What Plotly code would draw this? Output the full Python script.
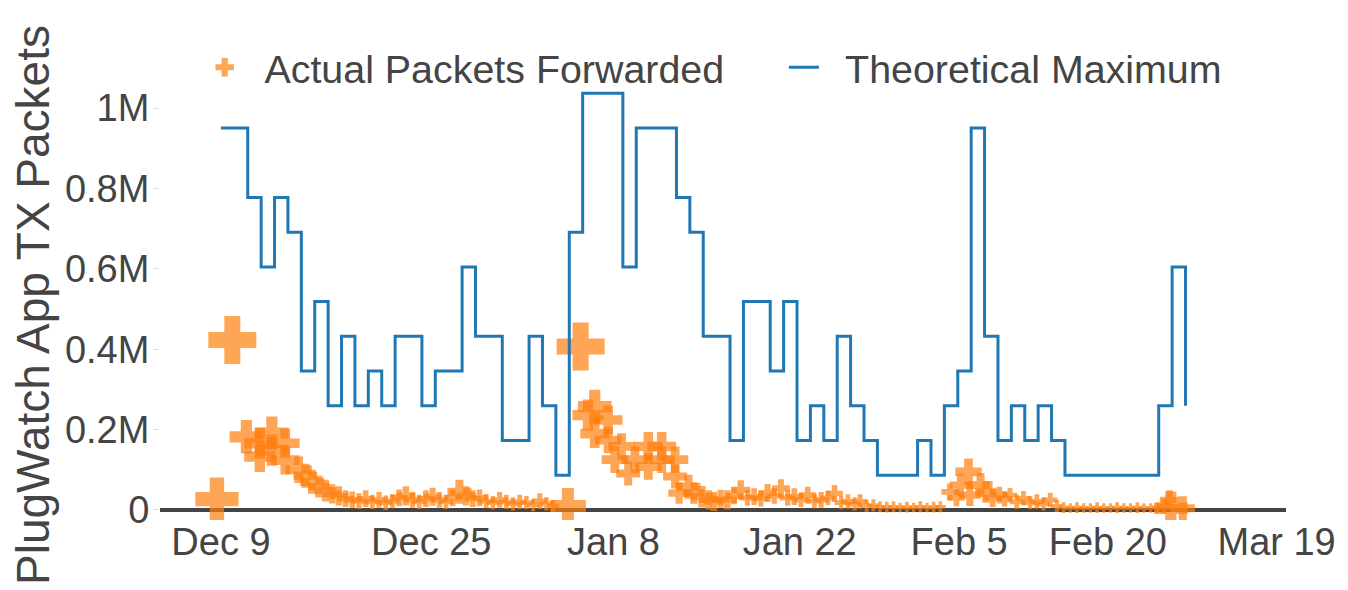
import plotly.graph_objects as go

# ---------------- data ----------------
# Theoretical maximum: daily capacity expressed in units of 86,400 packets (one per second per device)
theo_idx = list(range(73))
theo_units = [11, 11, 9, 7, 9, 8, 4, 6, 3, 5, 3, 4, 3, 5, 5, 3, 4, 4, 7, 5,
              5, 2, 2, 5, 3, 1, 8, 12, 12, 12, 7, 11, 11, 11, 9, 8, 5, 5, 2, 6,
              6, 4, 6, 2, 3, 2, 5, 3, 2, 1, 1, 1, 2, 1, 3, 4, 11, 5, 2, 3,
              2, 3, 2, 1, 1, 1, 1, 1, 1, 1, 3, 7, 3]
theo_vals = [u * 86400 for u in theo_units]

# Actual packets forwarded (position on the day axis, packets, marker size)
act_x = [-0.3, 0.85,
         1.9, 2.9, 2.9, 3.8, 3.8, 4.8, 4.8, 5.8, 6.3, 6.8, 7.3, 7.8, 8.3, 8.8, 9.3, 9.8,
         10.3, 10.8, 11.3, 11.8, 12.3, 12.8, 13.3, 13.8, 14.3, 14.8, 15.3, 15.8, 16.3, 16.8,
         17.3, 17.8, 18.3, 18.8, 19.3, 19.8, 20.3, 20.8, 21.3, 21.8, 22.3, 22.8, 23.3, 23.8,
         24.3, 24.8, 25.9, 26.85,
         27.4, 27.9, 28.9, 27.9, 28.9, 29.9, 29.4, 30.9, 31.9, 32.9, 31.9, 32.9, 33.9, 30.4,
         33.9, 34.9, 34.2, 35.3, 35.9, 36.4, 36.8, 37.3, 37.8, 38.3, 38.8, 39.3, 39.8, 40.3,
         40.8, 41.3, 41.8, 42.3, 42.8, 43.3, 43.8, 44.3, 44.8, 45.3, 45.8, 46.3, 46.8, 47.3,
         47.7, 48.2, 48.7, 49.2, 49.7, 50.2, 50.7, 51.2, 51.7, 52.2, 52.7, 53.2, 53.7,
         54.4, 54.9, 55.2, 55.8, 55.9, 56.7, 57.1, 57.6, 58.1, 58.5, 58.9, 59.4, 59.9, 60.4,
         60.9, 61.4, 61.9, 62.4, 62.9, 63.4, 63.9, 64.4, 64.9, 65.4, 65.9, 66.4, 66.9, 67.4,
         67.9, 68.4, 68.9, 69.4, 69.9, 70.4, 70.8, 70.9, 71.8]
act_y = [27000, 423000,
         182000, 166000, 133000, 191000, 149000, 166000, 124000, 100000, 85000, 70000, 58000,
         48000, 40000, 35000, 28000, 25000,
         22000, 28000, 20000, 25000, 18000, 22000, 30000, 35000, 25000, 20000, 28000, 33000,
         25000, 20000, 30000, 45000, 35000, 28000, 30000, 22000, 18000, 25000, 20000, 15000,
         20000, 18000, 12000, 22000, 15000, 10000, 10000, 407000,
         236000, 257000, 224000, 190000, 174000, 158000, 125000, 125000, 158000, 158000,
         108000, 125000, 125000, 91000,
         83000, 58000, 42000, 42000, 33000, 25000, 21000, 28000, 25000, 35000, 50000, 30000,
         33000, 28000, 42000, 35000, 54000, 30000, 33000, 25000, 37000, 22000, 25000, 30000,
         41000, 18000, 21000, 15000,
         21000, 10000, 12000, 8000, 7000, 8000, 6000, 7000, 6000, 8000, 6000, 7000, 8000,
         45000, 30000, 62000, 95000, 37000, 62000, 45000, 30000, 37000, 28000, 37000, 20000,
         29000, 18000,
         21000, 15000, 25000, 10000, 6000, 5000, 6000, 5000, 5000, 6000, 5000, 5000, 6000,
         5000, 5000, 6000, 5000, 5000, 6000, 10000, 25000, 4000, 4000]
act_size = [36, 40,
            28, 26, 26, 28, 26, 24, 24, 22, 20, 20, 18, 18, 16, 16, 14, 14,
            13, 14, 12, 13, 12, 12, 14, 16, 13, 12, 14, 15, 13, 12, 14, 20, 16, 14, 14, 12,
            11, 13, 12, 11, 12, 11, 10, 13, 11, 10, 30, 40,
            26, 28, 24, 24, 22, 22, 22, 22, 24, 24, 22, 22, 22, 20,
            20, 20, 18, 18, 18, 16, 16, 15, 16, 14, 16, 13, 14, 13, 15, 13, 15, 13, 14, 12,
            14, 12, 13, 12, 14, 11, 12, 11,
            12, 10, 10, 9, 9, 9, 8, 9, 8, 9, 8, 9, 9,
            14, 14, 18, 22, 18, 20, 18, 15, 14, 13, 12, 12, 12, 11,
            12, 11, 12, 10, 9, 8, 9, 8, 8, 9, 8, 8, 9, 8,
            8, 9, 8, 8, 9, 12, 16, 28, 20]

tick_pos = [0, 15.7, 29.3, 43.2, 55.1, 66.2, 78.8]
tick_text = ["Dec 9", "Dec 25", "Jan 8", "Jan 22", "Feb 5", "Feb 20", "Mar 19"]
ytick_vals = [0, 200000, 400000, 600000, 800000, 1000000]
ytick_text = ["0", "0.2M", "0.4M", "0.6M", "0.8M", "1M"]
series_names = ["  Actual Packets Forwarded     ", "  Theoretical Maximum"]

FONT = "Liberation Sans, Arial, sans-serif"

fig = go.Figure()
fig.add_trace(go.Scatter(
    x=act_x, y=act_y, mode="markers", name=series_names[0],
    marker=dict(symbol="cross", size=act_size, color="#ff7f0e", opacity=0.7,
                line=dict(width=0)),
))
fig.add_trace(go.Scatter(
    x=theo_idx, y=theo_vals, mode="lines", name=series_names[1],
    line=dict(shape="hv", color="#1f77b4", width=3),
))

fig.update_layout(
    width=1348, height=590,
    margin=dict(l=160, r=58, t=90, b=70),
    paper_bgcolor="white", plot_bgcolor="white",
    font=dict(family=FONT, size=38, color="#444"),
    showlegend=True,
    legend=dict(orientation="h", x=0.0397, xanchor="left", y=1.052, yanchor="middle",
                font=dict(size=39.4, color="#444"), bgcolor="rgba(0,0,0,0)",
                traceorder="normal"),
    xaxis=dict(range=[-4.55, 79.5], tickmode="array", tickvals=tick_pos,
               ticktext=tick_text, showgrid=False, zeroline=False, showline=False,
               ticks="", ticklabelstandoff=-4, tickfont=dict(size=38, color="#444")),
    yaxis=dict(range=[-25000, 1045000], tickmode="array", tickvals=ytick_vals,
               ticktext=ytick_text, showgrid=False, zeroline=True,
               zerolinecolor="#444", zerolinewidth=4, showline=False,
               ticks="outside", ticklen=5, tickcolor="#ddd", tickwidth=1,
               ticklabelstandoff=-3,
               tickfont=dict(size=38, color="#444"),
               title=dict(text="PlugWatch App TX Packets", font=dict(size=46, color="#444"),
                          standoff=0)),
)

fig.write_html("out.html", config={"displayModeBar": False},
               post_script="document.body.style.margin='0';")
